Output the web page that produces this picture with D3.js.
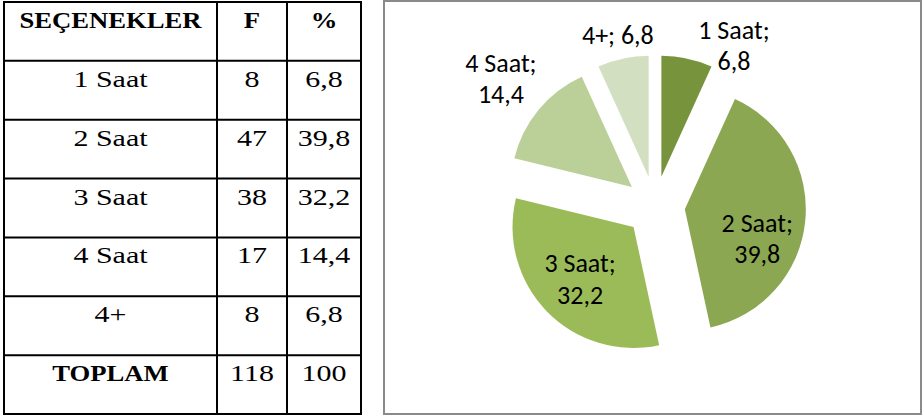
<!DOCTYPE html>
<html>
<head>
<meta charset="utf-8">
<script src="https://cdn.jsdelivr.net/npm/d3@7"></script>
<style>
  html, body { margin: 0; padding: 0; background: #fff; }
  svg { display: block; }
</style>
</head>
<body>
<div id="chart"></div>
<script>
const width = 923;
const height = 417;

// data
const headers = ["SEÇENEKLER", "F", "%"];
const categories = ["1 Saat", "2 Saat", "3 Saat", "4 Saat", "4+"];
const counts = [8, 47, 38, 17, 8];
const percents = [6.8, 39.8, 32.2, 14.4, 6.8];
const totalLabel = "TOPLAM";
const totalCount = 118;
const totalPercent = 100;

// pie styling
const colors = ["#77933c", "#8ba752", "#9bbb59", "#bbcf98", "#d3dfc1"];
const wrapLabel = [true, true, true, true, false];
const labelRadius = [1.24, 0.645, 0.617, 1.405, 1.2];
const labelNudge = [16.7, 15.7, 0, 0, 0];

const fmt = v => String(v).replace(".", ",");

const svg = d3.select("#chart").append("svg")
    .attr("width", width)
    .attr("height", height);

// ---- table ----
const colX = [4, 217, 287, 361];
const tableTop = 2, tableBottom = 414;
const rows = [headers]
    .concat(categories.map((c, i) => [c, String(counts[i]), fmt(percents[i])]))
    .concat([[totalLabel, String(totalCount), String(totalPercent)]]);

const y = d3.scaleBand()
    .domain(d3.range(rows.length))
    .range([tableTop, tableBottom]);

const table = svg.append("g");

table.selectAll("line.h")
  .data(d3.range(rows.length + 1))
  .join("line")
    .attr("x1", colX[0] - 1).attr("x2", colX[3] + 1)
    .attr("y1", i => i < rows.length ? y(i) : tableBottom)
    .attr("y2", i => i < rows.length ? y(i) : tableBottom)
    .attr("stroke", "#000").attr("stroke-width", 2);

table.selectAll("line.v")
  .data(colX)
  .join("line")
    .attr("x1", d => d).attr("x2", d => d)
    .attr("y1", tableTop - 1).attr("y2", tableBottom + 1)
    .attr("stroke", "#000").attr("stroke-width", 2);

rows.forEach((row, r) => {
    row.forEach((cell, c) => {
        const cx = (colX[c] + colX[c + 1]) / 2;
        const bold = r === 0 || (r === rows.length - 1 && c === 0);
        table.append("text")
            .attr("transform", `translate(${cx},${y(r) + 26}) scale(${bold ? 1.16 : 1.25},1)`)
            .attr("text-anchor", "middle")
            .style("font-family", "'Liberation Serif', 'Times New Roman', serif")
            .style("font-size", bold ? "23px" : "24px")
            .style("font-weight", bold ? "bold" : "normal")
            .text(cell);
    });
});

// ---- pie ----
svg.append("rect")
    .attr("x", 384).attr("y", 1)
    .attr("width", 537).attr("height", 413)
    .attr("fill", "none")
    .attr("stroke", "#8a8a8a")
    .attr("stroke-width", 2);

const pcx = 655, pcy = 206, radius = 121, explode = 30;

const pie = d3.pie().sort(null).value(d => d)(percents);
const arc = d3.arc().innerRadius(0).outerRadius(radius);

const slices = svg.append("g")
    .attr("transform", `translate(${pcx},${pcy})`);

slices.selectAll("path")
  .data(pie)
  .join("path")
    .attr("d", arc)
    .attr("fill", (d, i) => colors[i])
    .attr("transform", d => {
        const [ox, oy] = d3.pointRadial((d.startAngle + d.endAngle) / 2, explode);
        return `translate(${ox},${oy})`;
    });

const labels = slices.selectAll("g.lbl")
  .data(pie)
  .join("g")
    .attr("transform", (d, i) => {
        const mid = (d.startAngle + d.endAngle) / 2;
        const [ox, oy] = d3.pointRadial(mid, explode);
        const [lx, ly] = d3.pointRadial(mid + labelNudge[i] * Math.PI / 180, labelRadius[i] * radius);
        return `translate(${ox + lx},${oy + ly})`;
    });

labels.each(function(d, i) {
    const lines = wrapLabel[i]
        ? [categories[i] + ";", fmt(percents[i])]
        : [categories[i] + "; " + fmt(percents[i])];
    const g = d3.select(this);
    lines.forEach((t, k) => {
        g.append("text")
            .attr("text-anchor", "middle")
            .attr("y", (k - (lines.length - 1) / 2) * 31.5)
            .attr("dy", "0.35em")
            .style("font-family", "Carlito, Calibri, Lato, sans-serif")
            .style("font-size", "26px")
            .style("fill", "#000")
            .text(t);
    });
});
</script>
</body>
</html>
